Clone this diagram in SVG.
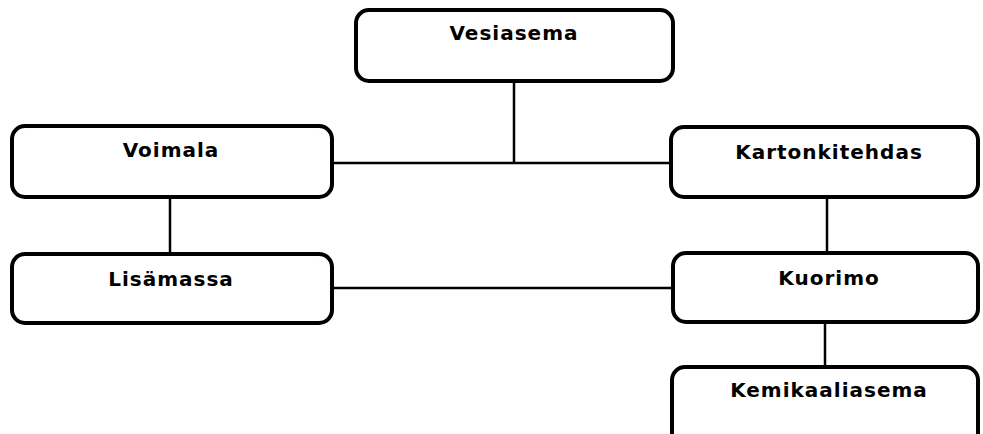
<svg xmlns="http://www.w3.org/2000/svg" width="983" height="434" viewBox="0 0 983 434">
<style>
.box{fill:#fff;stroke:#000;stroke-width:4}
.lbl{font-family:"DejaVu Sans",Verdana,sans-serif;font-weight:bold;font-size:20px;letter-spacing:1px;text-anchor:middle;fill:#000}
.con{stroke:#000;stroke-width:2.5;fill:none}
</style>
<rect width="983" height="434" fill="#fff"/>
<g id="connectors">
<line class="con" x1="514" y1="81" x2="514" y2="163"/>
<line class="con" x1="332" y1="163" x2="671" y2="163"/>
<line class="con" x1="170" y1="197" x2="170" y2="254"/>
<line class="con" x1="332" y1="288" x2="673" y2="288"/>
<line class="con" x1="827" y1="197" x2="827" y2="253"/>
<line class="con" x1="825" y1="322" x2="825" y2="367"/>
</g>
<g id="vesiasema">
<rect class="box" x="356" y="10" width="317" height="71" rx="13"/>
<text class="lbl" x="514" y="40">Vesiasema</text>
</g>
<g id="voimala">
<rect class="box" x="12" y="126" width="320" height="71" rx="13"/>
<text class="lbl" x="171" y="157">Voimala</text>
</g>
<g id="kartonkitehdas">
<rect class="box" x="671" y="127" width="307" height="70" rx="13"/>
<text class="lbl" x="829" y="159">Kartonkitehdas</text>
</g>
<g id="lisamassa">
<rect class="box" x="12" y="254" width="320" height="69" rx="13"/>
<text class="lbl" x="171" y="286">Lisämassa</text>
</g>
<g id="kuorimo">
<rect class="box" x="673" y="253" width="305" height="69" rx="13"/>
<text class="lbl" x="829" y="285">Kuorimo</text>
</g>
<g id="kemikaaliasema">
<rect class="box" x="672" y="367" width="306" height="80" rx="13"/>
<text class="lbl" x="829" y="397">Kemikaaliasema</text>
</g>
</svg>
